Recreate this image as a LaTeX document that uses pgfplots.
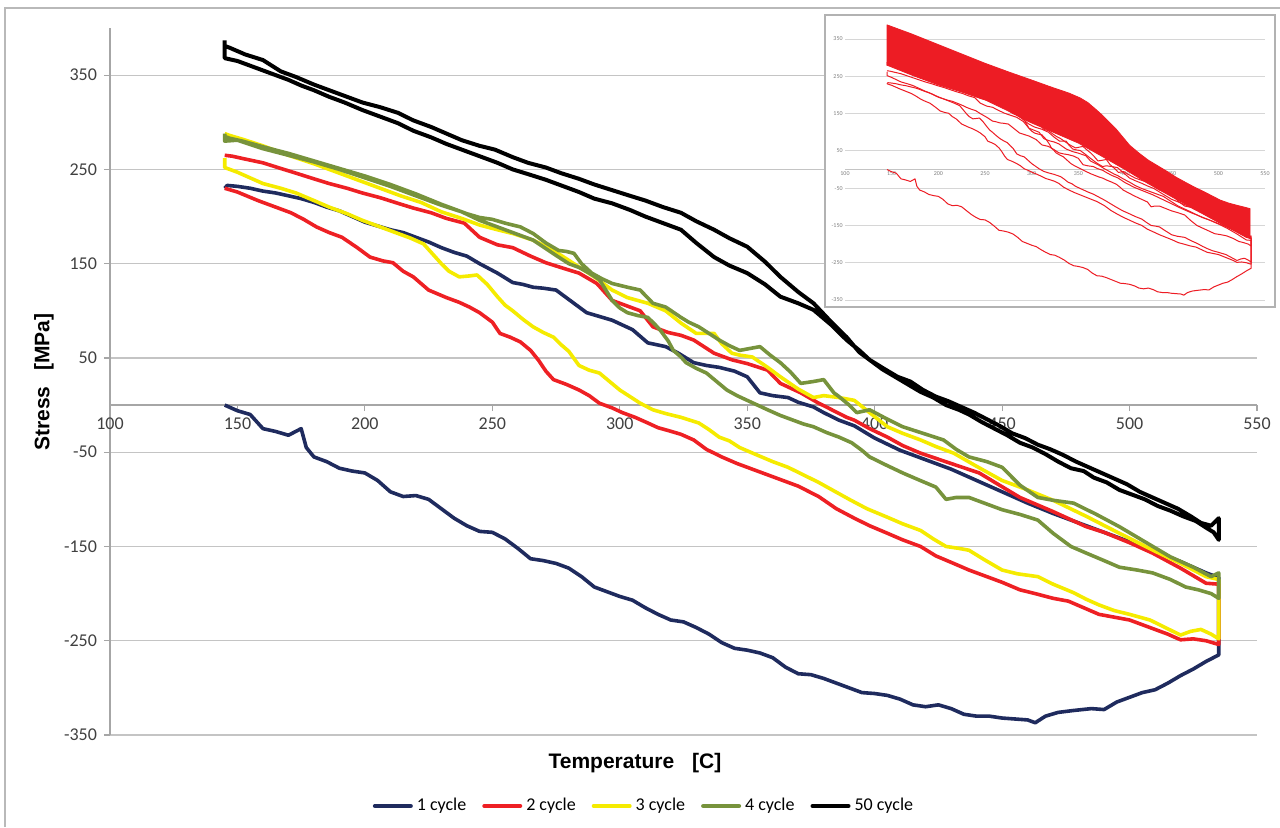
\documentclass[border=0pt]{standalone}
\usepackage{pgfplots}
\pgfplotsset{compat=1.18}
\usepackage{pgfplotstable}
\usepackage{fontspec}
\setmainfont{Carlito}
\newfontfamily\arialf{Liberation Sans}
\definecolor{c1}{HTML}{1F2B5E}
\definecolor{c2}{HTML}{EE2024}
\definecolor{c3}{HTML}{F5EB00}
\definecolor{c4}{HTML}{77933C}
\definecolor{c5}{HTML}{000000}
\definecolor{ired}{HTML}{ED1C24}
\definecolor{gridgray}{HTML}{C4C4C4}
\definecolor{axisgray}{HTML}{A6A6A6}
\definecolor{tickgray}{HTML}{404040}

\pgfplotstableread{
x y
145 0
150 -6
155 -10
160 -25
165 -28
170 -32
175 -25
177 -45
180 -55
185 -60
190 -67
195 -70
200 -72
205 -80
210 -92
215 -97
220 -96
225 -100
230 -110
235 -120
240 -128
245 -134
250 -135
255 -142
260 -152
265 -163
270 -165
275 -168
280 -173
285 -182
290 -193
295 -198
300 -203
305 -207
310 -215
315 -222
320 -228
325 -230
330 -236
335 -243
340 -252
345 -258
350 -260
355 -263
360 -268
365 -278
370 -285
375 -286
380 -290
385 -295
390 -300
395 -305
400 -306
405 -308
410 -312
415 -318
420 -320
425 -318
430 -322
435 -328
440 -330
445 -330
450 -332
455 -333
460 -334
463 -337
467 -330
472 -326
478 -324
485 -322
490 -323
495 -315
500 -310
505 -305
510 -302
515 -295
520 -287
525 -280
530 -272
535 -265
535 -255
535 -183
530 -178
520 -166
510 -155
500 -145
490 -135
480 -125
470 -115
460 -104
450 -92
440 -80
430 -68
420 -58
410 -48
400 -35
392 -22
386 -16
380 -8
376 -2
370 3
366 8
360 10
355 13
350 30
345 36
339 40
334 42
329 45
323 55
318 62
311 66
305 80
297 90
292 94
287 98
281 110
275 122
270 124
266 125
262 128
258 130
252 140
245 150
240 158
235 162
230 167
225 173
220 178
215 183
210 186
205 190
200 194
195 200
190 206
185 210
180 215
175 219
170 222
165 225
160 227
155 230
150 232
146 233
145 230
}\tA

\pgfplotstableread{
x y
145 230
150 226
158 217
165 210
171 204
176 197
181 189
186 183
191 178
197 167
202 157
207 153
211 151
215 142
219 136
225 122
232 114
237 109
241 104
245 98
250 88
253 76
257 72
261 67
265 58
268 48
271 36
274 27
279 22
284 16
288 10
292 2
297 -3
301 -8
306 -13
311 -19
315 -24
319 -27
324 -31
329 -37
334 -47
340 -55
346 -62
352 -68
358 -74
364 -80
370 -86
378 -97
385 -110
392 -120
398 -128
405 -136
411 -143
418 -150
424 -160
431 -168
437 -175
444 -182
450 -188
457 -196
463 -200
470 -205
476 -208
482 -215
488 -222
494 -225
500 -228
505 -233
510 -238
515 -243
520 -249
525 -248
530 -250
535 -254
535 -190
530 -189
520 -173
509 -157
500 -146
490 -135
483 -129
470 -113
457 -98
449 -85
441 -72
430 -62
418 -51
411 -43
405 -34
398 -25
392 -16
389 -13
381 -2
378 2
371 13
363 23
358 37
350 44
344 48
337 55
329 69
324 74
319 77
313 83
308 100
303 105
297 111
291 129
284 140
278 145
271 151
265 158
258 167
252 170
245 178
239 193
232 198
226 204
219 209
213 214
206 220
199 225
193 230
186 235
180 240
173 246
167 251
160 257
153 261
148 264
145 265
}\tB

\pgfplotstableread{
x y
145 262
145 252
150 247
160 235
167 230
173 225
180 217
186 210
193 203
199 196
206 189
213 182
218 177
223 171
226 162
230 150
233 142
237 136
241 137
244 138
248 128
252 115
255 106
258 100
262 91
266 83
270 77
274 72
277 64
280 57
284 42
288 37
292 34
296 25
300 16
304 9
308 2
313 -5
318 -9
324 -13
331 -19
335 -26
339 -34
343 -38
347 -45
353 -52
360 -60
366 -66
372 -74
378 -82
384 -91
390 -100
397 -110
405 -119
411 -126
418 -133
423 -142
428 -150
433 -152
437 -154
443 -164
450 -175
456 -179
464 -182
470 -190
478 -199
483 -206
488 -212
494 -218
500 -222
508 -228
514 -236
520 -244
524 -240
528 -238
532 -243
535 -248
535 -185
530 -182
520 -168
510 -155
496 -136
483 -118
470 -101
460 -90
450 -80
440 -65
431 -51
424 -44
418 -37
411 -30
405 -23
398 -8
392 5
386 8
380 10
376 8
370 17
363 30
358 40
352 51
347 53
344 55
340 65
337 76
330 76
324 87
318 100
311 108
303 114
297 122
290 136
282 150
274 164
266 175
258 182
252 186
245 191
238 198
230 205
222 215
214 222
206 230
199 237
190 246
180 256
170 265
160 275
152 282
147 286
145 288
}\tC

\pgfplotstableread{
x y
145 288
145 280
150 281
160 272
170 265
180 258
190 250
200 241
210 232
220 222
230 212
238 205
245 196
251 190
256 185
261 180
266 175
271 166
276 157
280 150
284 146
288 140
292 133
295 120
297 111
300 103
303 98
307 95
311 93
314 85
316 79
319 68
321 58
324 51
326 45
330 39
334 34
338 25
342 16
346 10
350 5
354 0
358 -5
363 -11
368 -16
372 -20
376 -23
381 -29
386 -34
391 -40
395 -48
398 -55
404 -63
411 -72
417 -79
424 -87
428 -100
432 -98
437 -98
443 -104
450 -111
457 -116
464 -122
470 -136
477 -150
483 -157
490 -165
496 -172
503 -175
509 -178
516 -185
522 -193
527 -196
532 -200
535 -205
535 -178
532 -182
525 -172
516 -161
506 -145
496 -129
487 -116
478 -104
470 -101
464 -98
457 -85
450 -66
444 -60
437 -55
432 -47
427 -37
419 -30
411 -23
405 -15
398 -5
393 -8
390 0
386 9
384 13
380 27
376 25
371 23
367 35
363 45
359 53
355 62
351 60
347 58
343 63
339 69
335 76
331 83
327 88
324 93
318 104
313 108
308 122
303 125
297 129
293 134
289 140
285 150
282 161
279 163
276 164
271 172
266 182
261 189
255 193
250 197
245 199
240 203
230 213
220 224
210 234
200 243
190 251
180 259
170 267
160 274
152 280
147 283
145 285
}\tD

\pgfplotstableread{
x y
145 385
145 368
150 365
155 360
160 355
165 350
170 345
175 339
180 334
186 327
192 321
199 313
206 306
213 299
219 291
226 284
232 277
239 270
245 264
252 257
258 250
264 245
271 239
277 233
284 226
290 219
297 214
304 207
310 200
317 193
324 186
330 172
337 157
343 148
350 140
357 128
363 115
370 108
376 101
383 85
389 69
394 58
398 48
403 38
408 30
413 22
418 14
423 8
428 0
433 -5
437 -10
442 -18
447 -25
452 -32
457 -40
462 -45
467 -52
472 -60
477 -67
482 -70
486 -77
491 -82
496 -90
501 -95
506 -100
511 -107
516 -112
521 -118
526 -123
530 -130
533 -135
535 -143
535 -120
532 -128
528 -125
524 -118
519 -110
514 -104
509 -98
504 -92
499 -84
494 -78
489 -72
484 -66
479 -60
474 -53
469 -47
464 -42
459 -35
454 -30
449 -22
444 -15
439 -8
434 -2
429 4
424 9
419 16
414 25
409 30
404 38
398 48
394 56
389 72
383 88
376 108
370 120
363 136
357 152
350 168
343 177
337 186
330 195
324 204
317 210
310 217
304 222
297 228
290 234
284 240
277 246
271 252
264 257
258 263
251 271
245 275
238 281
232 288
226 295
219 302
213 310
206 316
199 321
193 327
186 334
180 340
173 348
167 354
160 366
153 372
147 379
145 381
145 387
}\tE

\pgfplotstableread{
x y
145 388
170 365
200 335
225 310
250 285
275 262
300 240
320 222
340 205
352 192
360 180
368 163
376 145
383 127
390 110
398 86
405 65
415 44
425 25
435 10
445 -5
455 -21
466 -36
475 -48
485 -60
495 -73
502 -82
511 -90
520 -96
528 -101
534 -105
534 -185
520 -168
510 -153
500 -140
485 -120
470 -100
450 -73
425 -38
400 0
375 36
350 71
325 98
300 125
275 157
250 187
225 208
200 227
175 250
160 265
145 280
}\tBand

\begin{document}
\begin{tikzpicture}
\useasboundingbox (0pt,0pt) rectangle (640pt,413.5pt);
\draw[gray!55, line width=1pt] (2.5pt,0pt) -- (2.5pt,409.5pt) -- (640pt,409.5pt);
\begin{axis}[
  at={(55pt,46pt)}, anchor=south west,
  scale only axis, width=573.5pt, height=353.5pt,
  xmin=100, xmax=550, ymin=-350, ymax=400,
  axis x line=middle, axis y line=left,
  hide obscured x ticks=false,
  axis line style={draw=axisgray, line width=0.6pt, -},
  xtick={100,150,...,550}, ytick={-350,-250,...,350},
  ymajorgrids, grid style={gridgray, line width=0.6pt},
  tick style={axisgray, line width=0.6pt},
  tick align=outside, major tick length=3pt,
  ticklabel style={font=\fontsize{9}{10}\selectfont, text=tickgray},
  /pgf/number format/assume math mode=true,
  every axis plot/.append style={line join=round},
  legend style={at={(0.4664,-0.1004)}, anchor=center, draw=none, fill=none,
    font=\fontsize{9}{11}\selectfont,
    /tikz/every even column/.append style={column sep=6pt}},
  legend columns=5,
  legend image code/.code={\draw[#1, line width=2pt, line cap=round] (0pt,0pt) -- (18pt,0pt);},
]
\addplot[c1, line width=1.8pt] table {\tA};
\addlegendentry{1 cycle}
\addplot[c2, line width=1.8pt] table {\tB};
\addlegendentry{2 cycle}
\addplot[c3, line width=1.8pt] table {\tC};
\addlegendentry{3 cycle}
\addplot[c4, line width=1.8pt] table {\tD};
\addlegendentry{4 cycle}
\addplot[c5, line width=2pt] table {\tE};
\addlegendentry{50 cycle}
\end{axis}
\node[rotate=90, font=\arialf\bfseries\fontsize{10.5}{12}\selectfont] at (22pt,222.5pt) {Stress\hspace{8pt}[MPa]};
\node[font=\arialf\bfseries\fontsize{10.5}{12}\selectfont] at (317.5pt,32pt) {Temperature\hspace{9pt}[C]};
\fill[white] (412.5pt,260pt) rectangle (637.5pt,406pt);
\draw[gray!60, line width=0.7pt] (412.5pt,260pt) rectangle (637.5pt,406pt);
\begin{axis}[
  at={(422.5pt,263.5pt)}, anchor=south west,
  scale only axis, width=210pt, height=139.8pt,
  xmin=100, xmax=550, ymin=-350, ymax=400,
  axis x line=middle, axis y line=left,
  hide obscured x ticks=false,
  x axis line style={draw=gridgray, line width=0.4pt, -},
  y axis line style={draw=none, -},
  xtick={100,150,...,550}, ytick={-350,-250,...,350},
  ymajorgrids, grid style={gridgray!70, line width=0.4pt},
  major tick length=0pt,
  ticklabel style={font=\fontsize{3}{3}\selectfont, text=gray, inner sep=1pt},
  /pgf/number format/assume math mode=true,
  every axis plot/.append style={line join=round},
]
\addplot[fill=ired, draw=ired, line width=0.4pt] table {\tBand} -- cycle;
\addplot[ired, line width=0.5pt] table {\tA};
\addplot[ired, line width=0.5pt] table {\tB};
\addplot[ired, line width=0.5pt] table {\tC};
\addplot[ired, line width=0.5pt] table {\tD};
\end{axis}
\end{tikzpicture}
\end{document}
